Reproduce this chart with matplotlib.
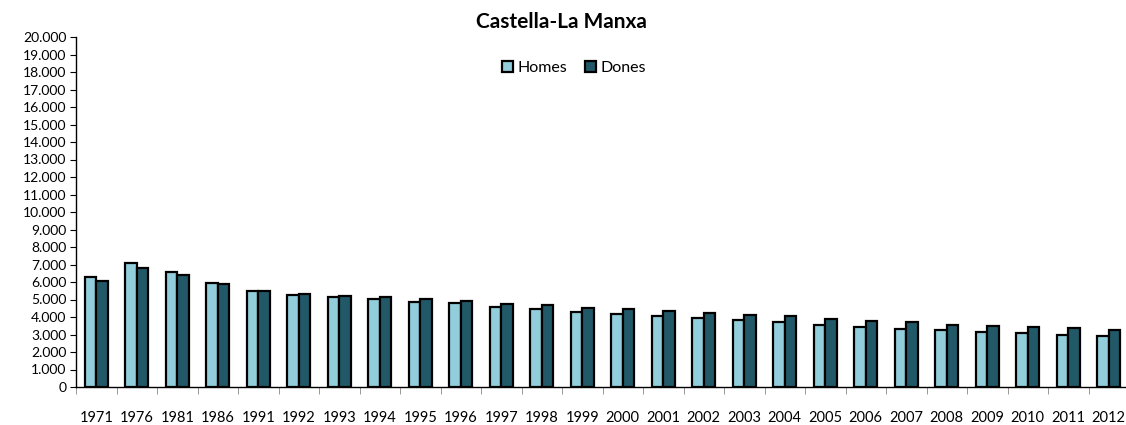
import numpy as np
import matplotlib.pyplot as plt
from matplotlib.ticker import FuncFormatter, MultipleLocator

plt.rcParams['font.family'] = ['Lato', 'DejaVu Sans']

years = ["1971", "1976", "1981", "1986", "1991", "1992", "1993", "1994", "1995",
         "1996", "1997", "1998", "1999", "2000", "2001", "2002", "2003", "2004",
         "2005", "2006", "2007", "2008", "2009", "2010", "2011", "2012"]
homes = [6290, 7090, 6580, 5930, 5470, 5280, 5140, 5010, 4880, 4780, 4570, 4460,
         4300, 4190, 4070, 3920, 3820, 3730, 3540, 3420, 3330, 3230, 3150, 3060,
         2980, 2910]
dones = [6060, 6810, 6420, 5870, 5470, 5330, 5200, 5120, 5030, 4890, 4760, 4670,
         4530, 4440, 4320, 4240, 4110, 4030, 3900, 3790, 3710, 3560, 3480, 3420,
         3370, 3270]

c_homes = "#92CDDC"
c_dones = "#215968"

fig = plt.figure(figsize=(11.26, 4.25), dpi=100)
W, H = 1126, 425
ax = fig.add_axes([76 / W, (H - 387) / H, 1053 / W, 350 / H])

x = np.arange(len(years))
bw = 0.29
ax.bar(x - bw / 2, homes, bw, color=c_homes, edgecolor="black", linewidth=1.6, label="Homes")
ax.bar(x + bw / 2, dones, bw, color=c_dones, edgecolor="black", linewidth=1.6, label="Dones")

ax.set_xlim(-0.5, len(years) - 0.5)
ax.set_ylim(0, 20000)
ax.yaxis.set_major_locator(MultipleLocator(1000))
ax.yaxis.set_major_formatter(FuncFormatter(lambda v, p: f"{int(v):,}".replace(",", ".")))

ax.set_xticks(x)
ax.set_xticklabels(years)
ax.set_xticks(np.arange(len(years) + 1) - 0.5, minor=True)
ax.tick_params(axis="x", which="major", length=0, pad=17, labelsize=10.5)
ax.tick_params(axis="x", which="minor", length=5, color="#888888", direction="out")
ax.tick_params(axis="y", length=4, labelsize=10, pad=3)

for s in ["top", "right"]:
    ax.spines[s].set_visible(False)
ax.spines["left"].set_linewidth(1.0)
ax.spines["bottom"].set_linewidth(1.0)

fig.text(561 / W, 1 - 22 / H, "Castella-La Manxa", ha="center", va="center",
         fontsize=15, fontweight="bold")
fig.legend(loc="center", bbox_to_anchor=(574 / W, 1 - 68 / H), ncol=2, frameon=False,
           fontsize=11.5, handlelength=0.7, handleheight=0.7, handletextpad=0.3,
           columnspacing=1.1, borderpad=0)

fig.savefig("out.png", dpi=100)
